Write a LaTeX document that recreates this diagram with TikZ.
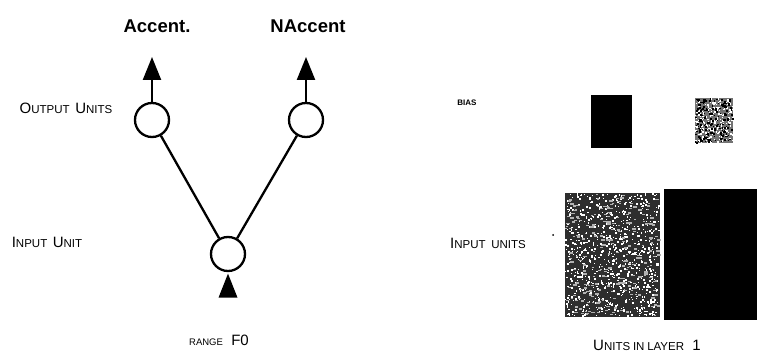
\documentclass[tikz,border=0pt]{standalone}
\usepackage{fontspec}
\setmainfont{Liberation Sans}
\usetikzlibrary{arrows.meta}
% fake small caps: large initial, smaller capitals after it
\newcommand\capA[1]{{\fontsize{15}{16}\selectfont #1}}
\newcommand\capB[1]{{\fontsize{11.5}{12}\selectfont #1}}
\tikzset{
  unit/.style={circle, draw, line width=2.3pt, minimum size=34pt, inner sep=0pt},
  link/.style={line width=2.3pt},
  outarrow/.style={line width=2.3pt, -{Triangle[width=18pt,length=23pt]}},
  title/.style={font=\bfseries\fontsize{18.5}{20}\selectfont, inner sep=0pt},
  lbl/.style={inner sep=0pt},
}
\begin{document}
\begin{tikzpicture}[x=1pt,y=-1pt]
\useasboundingbox (0,0) rectangle (757,355);

% ---- network sketch ----
\node[unit] (o1) at (152,120) {};
\node[unit] (o2) at (306,120) {};
\node[unit] (in) at (228,254) {};
\coordinate (t1) at (152,57);
\coordinate (t2) at (306,57);

\draw[link] (in) -- (o1);
\draw[link] (in) -- (o2);
\draw[outarrow] (o1.north) -- (t1);
\draw[outarrow] (o2.north) -- (t2);
% input marker pointing into the input unit
\fill ([yshift=-1.5pt]in.south) -- ++(-9.5,24) -- ++(19,0) -- cycle;

\node[title] (acc) at (157,26) {Accent.};
\node[title] (nacc) at (308,26) {NAccent};
\node[lbl] (lout) at (66,108) {\capA{O}\capB{UTPUT}\ \ \capA{U}\capB{NITS}};
\node[lbl] (lin) at (47,242) {\capA{I}\capB{NPUT}\ \ \capA{U}\capB{NIT}};
\node[lbl] (lrange) at (219,340) {{\fontsize{9.5}{10}\selectfont RANGE}\ \ \ \capA{F0}};

% ---- weight display ----
\node[lbl, font=\bfseries\fontsize{8}{9}\selectfont] (lbias) at (467,103) {BIAS};
\node[lbl] (linp) at (488,243) {\capA{I}\capB{NPUT}\ \ \capB{UNITS}};
\node[lbl] (llay) at (647,345) {\capA{U}\capB{NITS}\ \capB{IN}\ \capB{LAYER}\ \ \ \capA{1}};
\fill (553,235) circle (1);

% solid weights
\fill[black] (591,95) rectangle (632,148);
\fill[black] (664,189) rectangle (757,320);

% mottled weights
\pgfmathsetseed{1234}
\fill[black!82] (565,193) rectangle (660,317);
\foreach \i in {1,...,800}{
  \pgfmathsetmacro\px{565+93.5*rnd}
  \pgfmathsetmacro\py{193+122.5*rnd}
  \pgfmathsetmacro\s{0.8+1.3*rnd}
  \fill[white] (\px,\py) rectangle ++(\s,\s);
}
\foreach \i in {1,...,250}{
  \pgfmathsetmacro\px{565+93*rnd}
  \pgfmathsetmacro\py{193+122*rnd}
  \pgfmathsetmacro\s{0.8+1*rnd}
  \fill[white!70!black] (\px,\py) rectangle ++(2.2*\s,\s);
}
\fill[black!55] (695,98) rectangle (733,143);
\foreach \i in {1,...,240}{
  \pgfmathsetmacro\px{695+37*rnd}
  \pgfmathsetmacro\py{98+44*rnd}
  \pgfmathsetmacro\s{0.8+1.2*rnd}
  \fill[white] (\px,\py) rectangle ++(\s,\s);
}
\foreach \i in {1,...,180}{
  \pgfmathsetmacro\px{695+37*rnd}
  \pgfmathsetmacro\py{98+44*rnd}
  \pgfmathsetmacro\s{0.8+1.5*rnd}
  \fill[black] (\px,\py) rectangle ++(\s,\s);
}
\end{tikzpicture}
\end{document}
